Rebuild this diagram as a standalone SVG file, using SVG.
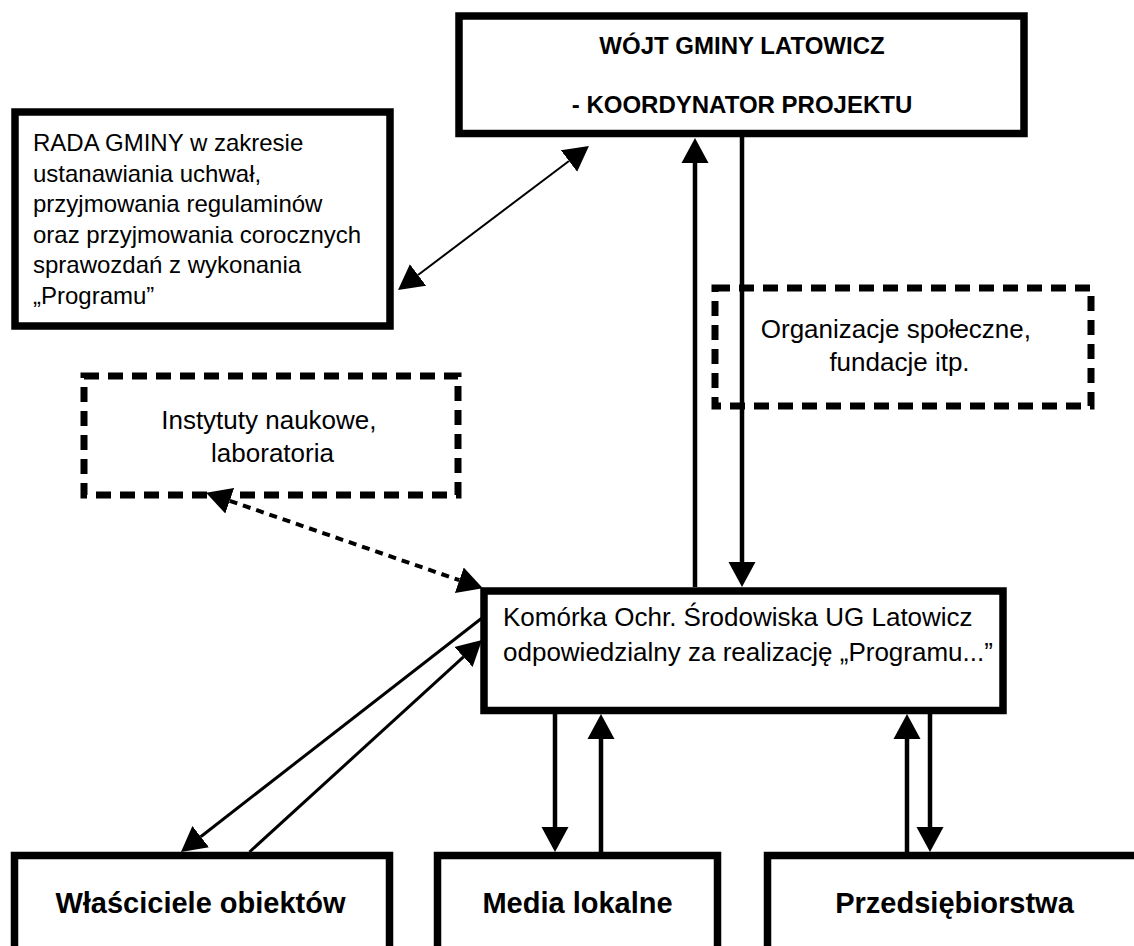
<svg xmlns="http://www.w3.org/2000/svg" width="1134" height="946" viewBox="0 0 1134 946">
<style>
  .box { fill: #fff; stroke: #000; stroke-width: 7.5; }
  .dbox { fill: none; stroke: #000; stroke-width: 7; stroke-dasharray: 15 9; }
  .t { font-family: "Liberation Sans", Arial, sans-serif; fill: #000; }
  .b { font-weight: bold; }
  .c { text-anchor: middle; }
  .v { fill: none; stroke: #000; stroke-width: 4.5; }
  .dg { fill: none; stroke: #000; stroke-width: 3; }
  .thin { fill: none; stroke: #000; stroke-width: 2; }
  .dash { fill: none; stroke: #000; stroke-width: 4; stroke-dasharray: 8 6; }
</style>
<defs>
  <marker id="ah" viewBox="0 -14 25 28" refX="0" refY="0" markerWidth="25" markerHeight="28" markerUnits="userSpaceOnUse" orient="auto-start-reverse">
    <path d="M0,-13.5 L25,0 L0,13.5 Z" fill="#000" stroke="none"/>
  </marker>
</defs>
<rect width="1134" height="946" fill="#fff"/>

<g id="wojt">
  <rect class="box" x="459" y="16" width="565" height="117.5"/>
  <text class="t b c" x="742" y="54" font-size="24">WÓJT GMINY LATOWICZ</text>
  <text class="t b c" x="742" y="113" font-size="24">- KOORDYNATOR PROJEKTU</text>
</g>

<g id="rada">
  <rect class="box" x="15" y="112" width="375" height="214"/>
  <text class="t" font-size="24">
    <tspan x="33" y="151">RADA GMINY w zakresie</tspan>
    <tspan x="33" y="181.6">ustanawiania uchwał,</tspan>
    <tspan x="33" y="212.2">przyjmowania regulaminów</tspan>
    <tspan x="33" y="242.8">oraz przyjmowania corocznych</tspan>
    <tspan x="33" y="273.4">sprawozdań z wykonania</tspan>
    <tspan x="33" y="304">„Programu”</tspan>
  </text>
</g>

<g id="organizacje">
  <rect class="dbox" x="715" y="288" width="376" height="118"/>
  <text class="t c" font-size="26">
    <tspan x="899.5" y="338">Organizacje społeczne,</tspan>
    <tspan x="899.5" y="371">fundacje itp.</tspan>
  </text>
</g>

<g id="instytuty">
  <rect class="dbox" x="84" y="376" width="374" height="119"/>
  <text class="t c" font-size="26">
    <tspan x="272.5" y="429">Instytuty naukowe,</tspan>
    <tspan x="272.5" y="462">laboratoria</tspan>
  </text>
</g>

<g id="komorka">
  <rect class="box" x="484" y="591" width="519" height="119.5"/>
  <text class="t" font-size="26">
    <tspan x="503" y="626">Komórka Ochr. Środowiska UG Latowicz</tspan>
    <tspan x="503" y="661">odpowiedzialny za realizację „Programu...”</tspan>
  </text>
</g>

<g id="wlasciciele">
  <rect class="box" x="14.5" y="855.5" width="375" height="200"/>
  <text class="t b c" x="200.5" y="913" font-size="29">Właściciele obiektów</text>
</g>

<g id="media">
  <rect class="box" x="437.5" y="855.5" width="280" height="200"/>
  <text class="t b c" x="577.5" y="913" font-size="29">Media lokalne</text>
</g>

<g id="przedsiebiorstwa">
  <rect class="box" x="767.5" y="855.5" width="400" height="200"/>
  <text class="t b c" x="954.5" y="913" font-size="29">Przedsiębiorstwa</text>
</g>

<g id="connectors">
  <path class="v" d="M695,587 L695,163" marker-end="url(#ah)"/>
  <path class="v" d="M742,137 L742,562" marker-end="url(#ah)"/>
  <path class="thin" d="M418,275 L569,161" marker-start="url(#ah)" marker-end="url(#ah)"/>
  <path class="dash" d="M229.7,500.8 L459.3,580.2" marker-start="url(#ah)" marker-end="url(#ah)"/>
  <path class="dg" d="M482,618 L200.7,836.7" marker-end="url(#ah)"/>
  <path class="dg" d="M249.5,852 L463.5,656.9" marker-end="url(#ah)"/>
  <path class="v" d="M555,714 L555,827" marker-end="url(#ah)"/>
  <path class="v" d="M601,852 L601,739" marker-end="url(#ah)"/>
  <path class="v" d="M907,852 L907,739" marker-end="url(#ah)"/>
  <path class="v" d="M930,714 L930,827" marker-end="url(#ah)"/>
</g>
</svg>
